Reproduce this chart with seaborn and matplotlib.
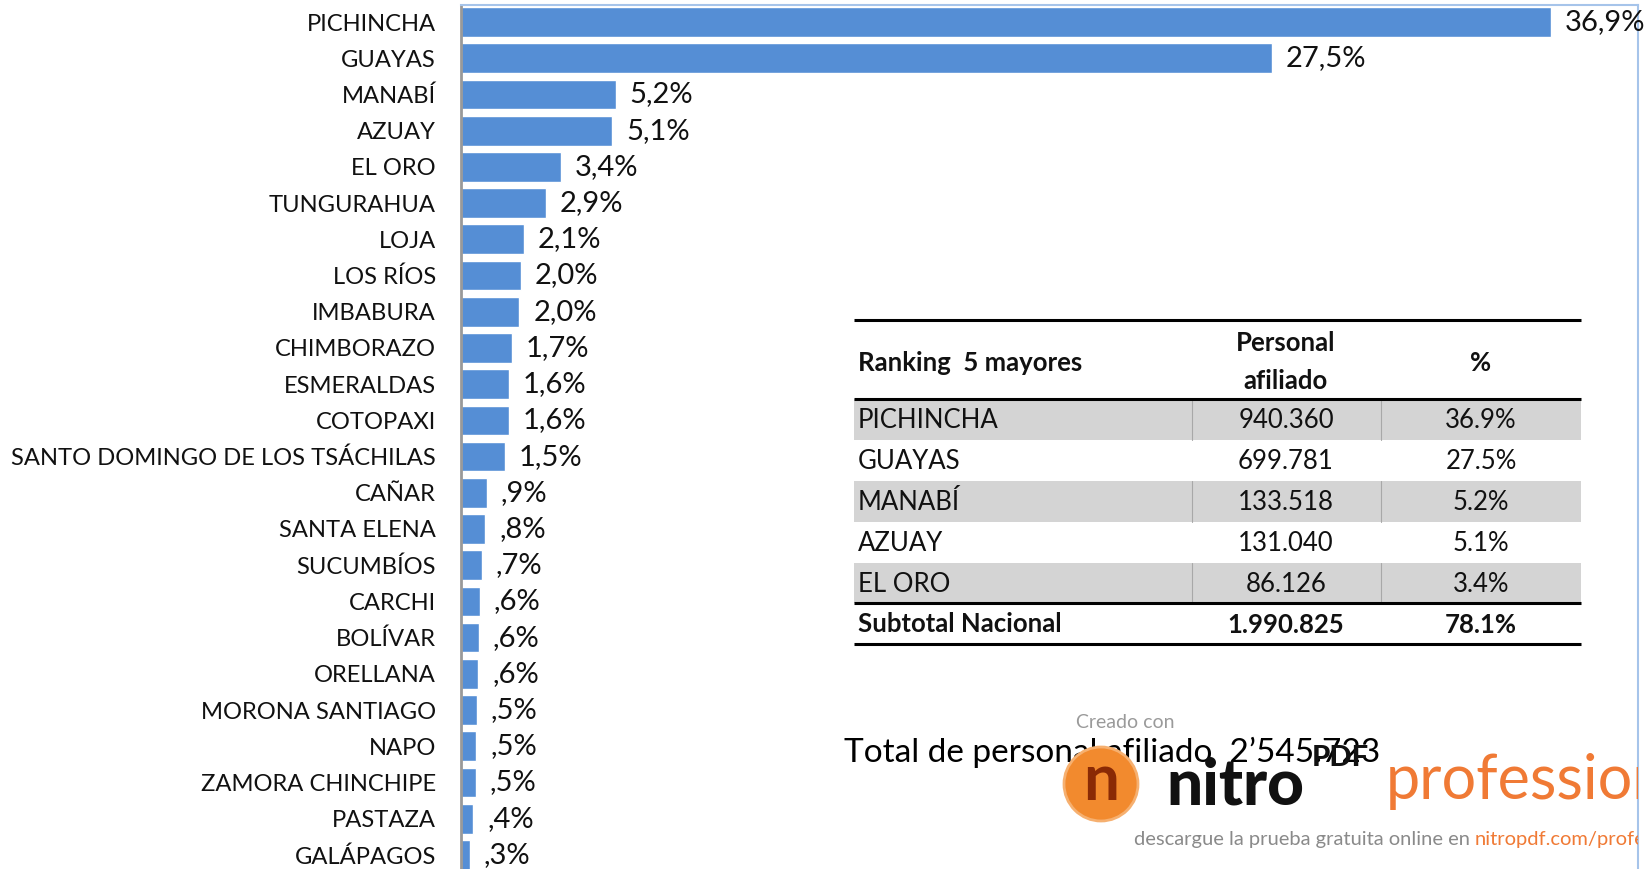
import matplotlib
matplotlib.use("Agg")
import matplotlib.pyplot as plt
import seaborn as sns
import pandas as pd
from matplotlib.patches import Rectangle, Circle

provincias = ['PICHINCHA', 'GUAYAS', 'MANABÍ', 'AZUAY', 'EL ORO', 'TUNGURAHUA', 'LOJA',
              'LOS RÍOS', 'IMBABURA', 'CHIMBORAZO', 'ESMERALDAS', 'COTOPAXI',
              'SANTO DOMINGO DE LOS TSÁCHILAS', 'CAÑAR', 'SANTA ELENA', 'SUCUMBÍOS',
              'CARCHI', 'BOLÍVAR', 'ORELLANA', 'MORONA SANTIAGO', 'NAPO',
              'ZAMORA CHINCHIPE', 'PASTAZA', 'GALÁPAGOS']
porcentaje = [36.94, 27.49, 5.24, 5.13, 3.38, 2.87, 2.12, 2.02, 1.98, 1.72, 1.63, 1.62,
              1.48, 0.88, 0.82, 0.70, 0.63, 0.61, 0.59, 0.54, 0.52, 0.50, 0.42, 0.30]

# tabla de los 5 mayores
top5 = ['PICHINCHA', 'GUAYAS', 'MANABÍ', 'AZUAY', 'EL ORO']
top5_personal = ['940.360', '699.781', '133.518', '131.040', '86.126']
top5_pct = ['36.9%', '27.5%', '5.2%', '5.1%', '3.4%']
subtotal_personal = '1.990.825'
subtotal_pct = '78.1%'
total_texto = 'Total de personal afiliado  2\u2019545.723'

df = pd.DataFrame({'Provincia': provincias, 'Porcentaje': porcentaje})


def etiqueta(v):
    s = f'{v:.1f}'.replace('.', ',')
    if s.startswith('0'):
        s = s[1:]
    return s + '%'


sns.set_style('white')
plt.rcParams['font.family'] = ['Lato', 'DejaVu Sans']

W, H = 1650, 869
fig = plt.figure(figsize=(W / 100, H / 100), dpi=100)

# ejes del grafico de barras (en pixeles de la figura)
left, right, top = 461, 1638, 5
ax_h = 868
ax = fig.add_axes([left / W, (H - top - ax_h) / H, (right - left) / W, ax_h / H])

sns.barplot(data=df, x='Porcentaje', y='Provincia', orient='h', color='#558ED5',
            saturation=1, width=0.82, ax=ax)
ax.set_xlim(0, 39.9)
ax.set_ylim(23.5, -0.47)
ax.bar_label(ax.containers[0], labels=[etiqueta(v) for v in porcentaje],
             padding=10, fontsize=21, color='#111111')
ax.set_xlabel('')
ax.set_ylabel('')
ax.set_xticks([])
ax.tick_params(axis='y', length=0, pad=18, labelsize=17.1, labelcolor='#111111')
for s in ['top', 'right']:
    ax.spines[s].set_color('#A6C4EA')
    ax.spines[s].set_linewidth(1.5)
ax.spines['left'].set_color('#999999')
ax.spines['left'].set_linewidth(2)
ax.spines['bottom'].set_visible(False)

# capa superpuesta en pixeles para tabla y textos (recortada en el borde del grafico)
ov = fig.add_axes([0, 0, right / W, 1])
ov.set_xlim(0, right)
ov.set_ylim(H, 0)
ov.axis('off')
ov.patch.set_alpha(0)

x0, x1 = 854, 1581
c1, c2 = 1192, 1381
m1, m2 = 1286, 1481
row_edges = [399, 440, 481, 522, 563, 603]
fs = 18.5

for i in range(5):
    y_a, y_b = row_edges[i], row_edges[i + 1]
    if i % 2 == 0:
        ov.add_patch(Rectangle((x0, y_a), x1 - x0, y_b - y_a, facecolor='#D4D4D4',
                               edgecolor='none'))
        ov.plot([c1, c1], [y_a, y_b], color='#A8A8A8', lw=0.8)
        ov.plot([c2, c2], [y_a, y_b], color='#A8A8A8', lw=0.8)
    yc = (y_a + y_b) / 2 + 1
    ov.text(x0 + 4, yc, top5[i], ha='left', va='center', fontsize=fs, color='#111111')
    ov.text(m1, yc, top5_personal[i], ha='center', va='center', fontsize=fs, color='#111111')
    ov.text(m2, yc, top5_pct[i], ha='center', va='center', fontsize=fs, color='#111111')

for y in [320, 399, 603, 644]:
    ov.plot([x0, x1], [y, y], color='black', lw=2.2, solid_capstyle='butt')

hdr = dict(fontsize=fs, fontweight='bold', color='#111111', va='center')
ov.text(x0 + 4, 363, 'Ranking  5 mayores', ha='left', **hdr)
ov.text(m1, 343, 'Personal', ha='center', **hdr)
ov.text(m1, 381, 'afiliado', ha='center', **hdr)
ov.text(m2, 363, '%', ha='center', **hdr)
ov.text(x0 + 4, 624, 'Subtotal Nacional', ha='left', **hdr)
ov.text(m1, 625, subtotal_personal, ha='center', **hdr)
ov.text(m2, 625, subtotal_pct, ha='center', **hdr)

ov.text(844, 752, total_texto, ha='left', va='center', fontsize=24, color='black')

# marca de agua del PDF
ov.text(1125, 722, 'Creado con', ha='center', va='center', fontsize=14,
        color='#9A9A9A', zorder=5)
ov.add_patch(Circle((1101, 784), 37, facecolor='#F28A2E', edgecolor='#F6B070',
                    lw=2, zorder=5))
ov.text(1101, 781, 'n', ha='center', va='center', fontsize=46, fontweight='bold',
        color='#8A2A05', zorder=6)
ov.text(1166, 786, 'nitro', ha='left', va='center', fontsize=46, fontweight='black',
        color='#111111', zorder=6)
ov.text(1312, 758, 'PDF', ha='left', va='center', fontsize=21, fontweight='black',
        color='#111111', zorder=6)
ov.text(1386, 782, 'professional', ha='left', va='center', fontsize=44,
        fontweight='normal', color='#F07A35', zorder=6, clip_on=True)
t2 = ov.text(1134, 839, 'descargue la prueba gratuita online en ', ha='left',
             va='center', fontsize=14.5, color='#8A8A8A', zorder=6, clip_on=True)
ov.annotate('nitropdf.com/professional', xy=(1, 0.5), xycoords=t2, ha='left',
            va='center', fontsize=14.5, color='#F07A35', zorder=6,
            annotation_clip=False, clip_on=True)

fig.savefig('out.png', dpi=100)
